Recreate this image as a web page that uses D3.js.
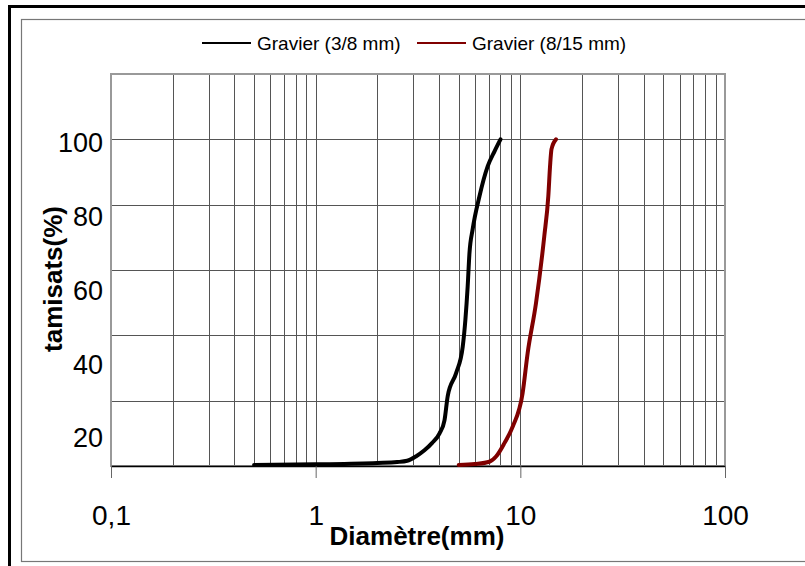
<!DOCTYPE html>
<html>
<head>
<meta charset="utf-8">
<script src="https://cdn.jsdelivr.net/npm/d3@7"></script>
<style>
  body { margin: 0; background: #fff; }
  svg { display: block; font-family: "Liberation Sans", Arial, sans-serif; }
</style>
</head>
<body>
<div id="chart"></div>
<script>
// grading curves (diameter mm, % passing)
const seriesNames = ['Gravier (3/8 mm)', 'Gravier (8/15 mm)'];
const seriesColors = ['#000000', '#800000'];

const d38 = [0.5, 1, 2, 2.5, 2.8, 3.1, 3.4, 3.7, 4.03, 4.26, 4.42, 4.86, 5.23, 5.39, 5.53, 5.64, 5.85, 6.31, 6.93, 7.5, 8];
const p38 = [0.3, 0.5, 0.9, 1.2, 1.6, 3, 4.8, 7, 10, 14, 21.5, 28.5, 36.5, 44.8, 55, 65, 72.5, 82.5, 91.8, 96.5, 100];

const d815 = [5, 6, 7.06, 7.61, 8.36, 9.17, 10.26, 10.86, 11.93, 13.09, 13.7, 13.97, 14.2, 14.93];
const p815 = [0.3, 0.6, 1.3, 2.9, 7, 12, 22.3, 34.6, 49.9, 70.3, 82.6, 91.8, 97, 100];

const xTicks = [0.1, 1, 10, 100];
const xTickLabels = ['0,1', '1', '10', '100'];
const yGrid = [0, 20, 40, 60, 80, 100];
const yTickLabels = [20, 40, 60, 80, 100];

const W = 805, H = 566;
const m = { left: 111, right: 725, top: 74, bottom: 466 };

const svg = d3.select('#chart').append('svg')
    .attr('width', W)
    .attr('height', H);

// frames
svg.append('rect')
    .attr('x', 9.5).attr('y', 6.5)
    .attr('width', 820).attr('height', 580)
    .attr('fill', 'none').attr('stroke', '#000').attr('stroke-width', 3);
svg.append('rect')
    .attr('x', 21.5).attr('y', 19.5)
    .attr('width', 820).attr('height', 542)
    .attr('fill', 'none').attr('stroke', '#777').attr('stroke-width', 1.2);

const x = d3.scaleLog().domain([0.1, 100]).range([m.left, m.right]);
const y = d3.scaleLinear().domain([0, 120]).range([m.bottom, m.top]);
// tick labels are not quite aligned with the grid in the original
const yLab = d3.scaleLinear().domain([20, 100]).range([438, 143]);

// vertical grid: every log tick
const xGrid = x.ticks().filter(v => v > 0.1 && v < 100);
svg.append('g')
    .attr('stroke', '#555')
    .attr('stroke-width', 1)
  .selectAll('line')
  .data(xGrid)
  .join('line')
    .attr('x1', d => Math.round(x(d)) + 0.5)
    .attr('x2', d => Math.round(x(d)) + 0.5)
    .attr('y1', m.top)
    .attr('y2', m.bottom);

svg.append('g')
    .attr('stroke', '#555')
    .attr('stroke-width', 1)
  .selectAll('line')
  .data(yGrid.slice(1))
  .join('line')
    .attr('x1', m.left)
    .attr('x2', m.right)
    .attr('y1', d => Math.round(y(d)) + 0.5)
    .attr('y2', d => Math.round(y(d)) + 0.5);

// plot border
svg.append('rect')
    .attr('x', m.left).attr('y', m.top)
    .attr('width', m.right - m.left).attr('height', m.bottom - m.top)
    .attr('fill', 'none').attr('stroke', '#999').attr('stroke-width', 2);

// x axis
const xAxis = svg.append('g')
    .attr('transform', `translate(0,${m.bottom})`)
    .call(d3.axisBottom(x)
      .tickValues(xTicks)
      .tickFormat((d, i) => xTickLabels[i])
      .tickSize(12)
      .tickSizeOuter(0)
      .tickPadding(27));
xAxis.select('.domain').attr('stroke', '#000').attr('stroke-width', 1.5);
xAxis.selectAll('.tick line').attr('stroke', '#666');
xAxis.selectAll('text')
    .attr('font-family', '"Liberation Sans", Arial, sans-serif')
    .attr('font-size', 28)
    .attr('fill', '#000');

// y tick labels
svg.append('g')
  .selectAll('text')
  .data(yTickLabels)
  .join('text')
    .attr('x', 103)
    .attr('y', d => yLab(d))
    .attr('dy', '0.35em')
    .attr('text-anchor', 'end')
    .attr('font-size', 27)
    .text(d => d);

// curves
const line = d3.line()
    .x(d => x(d[0]))
    .y(d => y(d[1]))
    .curve(d3.curveMonotoneX);

const series = [d3.zip(d38, p38), d3.zip(d815, p815)];
svg.append('g')
    .attr('fill', 'none')
    .attr('stroke-width', 4)
    .attr('stroke-linecap', 'round')
    .attr('stroke-linejoin', 'round')
  .selectAll('path')
  .data(series)
  .join('path')
    .attr('stroke', (d, i) => seriesColors[i])
    .attr('d', line);

// axis titles
svg.append('text')
    .attr('x', 417)
    .attr('y', 545)
    .attr('text-anchor', 'middle')
    .attr('font-weight', 'bold')
    .attr('font-size', 26)
    .text('Diamètre(mm)');

svg.append('text')
    .attr('transform', 'translate(62,279) rotate(-90)')
    .attr('text-anchor', 'middle')
    .attr('font-weight', 'bold')
    .attr('font-size', 26)
    .text('tamisats(%)');

// legend
const legendX = [202, 417];
const leg = svg.append('g')
  .selectAll('g')
  .data(seriesNames)
  .join('g')
    .attr('transform', (d, i) => `translate(${legendX[i]},43)`);
leg.append('line')
    .attr('x1', 0).attr('x2', 49)
    .attr('stroke', (d, i) => seriesColors[i])
    .attr('stroke-width', 2);
leg.append('text')
    .attr('x', 55)
    .attr('dy', '0.35em')
    .attr('font-size', 19)
    .text(d => d);
</script>
</body>
</html>
